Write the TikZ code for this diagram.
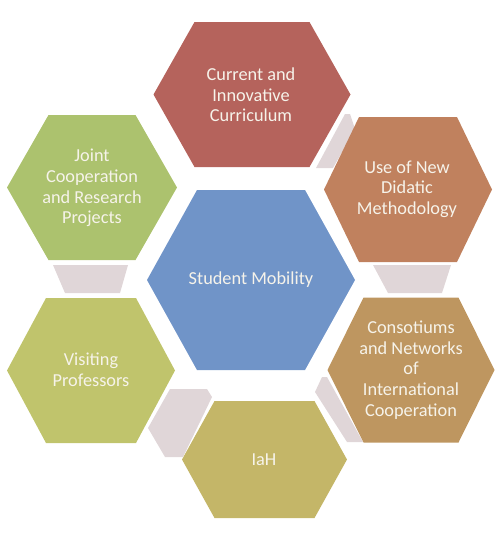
\documentclass[tikz,border=0pt]{standalone}
\usepackage{fontspec}
\setmainfont{Carlito}
\definecolor{cblue}{RGB}{112,148,200}
\definecolor{cred}{RGB}{181,99,92}
\definecolor{corange}{RGB}{192,129,94}
\definecolor{cbrown}{RGB}{190,150,96}
\definecolor{colive}{RGB}{196,182,104}
\definecolor{cyellowgreen}{RGB}{192,196,108}
\definecolor{cgreen}{RGB}{172,194,110}
\definecolor{conncol}{RGB}{224,214,216}
\definecolor{labelcol}{RGB}{246,243,234}
\tikzset{
  hexlabel/.style={text=labelcol, align=center, inner sep=0pt, font=\fontsize{18.3}{20.6}\selectfont},
  connshape/.style={fill=conncol}
}
\newcommand{\drawhex}[6]{%
  \fill[#6] ({#1-#3},#2) -- ({#1-#4},{#2-#5}) -- ({#1+#4},{#2-#5}) -- ({#1+#3},#2) -- ({#1+#4},{#2+#5}) -- ({#1-#4},{#2+#5}) -- cycle;}
\begin{document}
\begin{tikzpicture}[x=1pt,y=-1pt]
\useasboundingbox (0,0) rectangle (500,536);
% connectors
\fill[connshape] (345,114) -- (350,114) -- (355,129) -- (333,168) -- (316,168) -- cycle;
\fill[connshape] (373,265) -- (451,265) -- (442,293) -- (388,293) -- cycle;
\fill[connshape] (322,377) -- (327,377) -- (363,442) -- (347,442) -- (315,392) -- cycle;
\fill[connshape] (170,389) -- (207,389) -- (212,397) -- (183,457) -- (165,457) -- (148,428) -- cycle;
\fill[connshape] (53,265) -- (128,265) -- (120,293) -- (65,293) -- cycle;
% hexagons
\drawhex{251}{280}{104}{54}{90}{cblue}
\drawhex{252}{94.5}{98.5}{57.5}{72.5}{cred}
\drawhex{408}{189.5}{84}{49}{72.5}{corange}
\drawhex{411}{370}{83.5}{47.5}{72.5}{cbrown}
\drawhex{264.5}{459.5}{82.5}{50}{58.5}{colive}
\drawhex{91}{370.5}{84}{45}{72.5}{cyellowgreen}
\drawhex{92}{187.5}{85}{43.5}{72.5}{cgreen}
% labels
\node[hexlabel] (center) at (251,280) {Student Mobility};
\node[hexlabel] (curr) at (251,95) {Current and\\Innovative\\Curriculum};
\node[hexlabel] (didac) at (407,189) {Use of New\\Didatic\\Methodology};
\node[hexlabel] (cons) at (411,370) {Consotiums\\and Networks\\of\\International\\Cooperation};
\node[hexlabel] (iah) at (264,460) {IaH};
\node[hexlabel] (visit) at (91,370) {Visiting\\Professors};
\node[hexlabel] (joint) at (92,188) {Joint\\Cooperation\\and Research\\Projects};
\end{tikzpicture}
\end{document}
